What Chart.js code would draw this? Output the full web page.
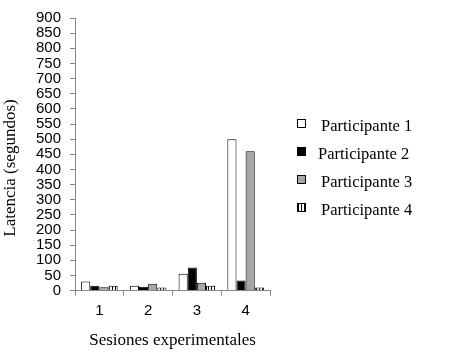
<!DOCTYPE html>
<html>
<head>
<meta charset="utf-8">
<script src="https://cdn.jsdelivr.net/npm/chart.js@4"></script>
<style>
html,body{margin:0;padding:0;background:#fff;}
#wrap{width:451px;height:355px;position:relative;}
</style>
</head>
<body>
<div id="wrap"><canvas id="c" width="451" height="355"></canvas></div>
<script>
const categories = ['1', '2', '3', '4'];
const seriesNames = ['Participante 1', 'Participante 2', 'Participante 3', 'Participante 4'];
const participante1 = [30, 16, 56, 500];
const participante2 = [16, 13, 76, 33];
const participante3 = [11, 23, 26, 460];
const participante4 = [16, 10, 16, 10];
const yTitle = 'Latencia (segundos)';
const xTitle = 'Sesiones experimentales';

function stripePattern(ctx) {
  const pc = document.createElement('canvas');
  pc.width = 3; pc.height = 3;
  const p = pc.getContext('2d');
  p.fillStyle = '#ffffff'; p.fillRect(0, 0, 3, 3);
  p.fillStyle = '#000000'; p.fillRect(1, 0, 1, 3);
  return ctx.createPattern(pc, 'repeat');
}

const ctx = document.getElementById('c').getContext('2d');
const pat = stripePattern(ctx);
const fills = ['#ffffff', '#000000', '#a6a6a6', pat];
const values = [participante1, participante2, participante3, participante4];

const legendPlugin = {
  id: 'customLegend',
  afterDraw(chart) {
    const c = chart.ctx;
    const rowsY = [125, 153, 181, 209];
    c.save();
    chart.data.datasets.forEach((ds, i) => {
      const y = rowsY[i];
      c.fillStyle = ds.backgroundColor;
      c.fillRect(297.5, y - 5.5, 8, 8);
      c.strokeStyle = '#000';
      c.lineWidth = 1;
      c.strokeRect(297.5, y - 5.5, 8, 8);
      c.fillStyle = '#000';
      c.font = '16.5px "Liberation Serif"';
      c.textBaseline = 'middle';
      c.textAlign = 'left';
      c.fillText(ds.label, i === 1 ? 318 : 321, y + 2);
    });
    // y axis title
    c.translate(11, 168);
    c.rotate(-Math.PI / 2);
    c.font = '17px "Liberation Serif"';
    c.textAlign = 'center';
    c.textBaseline = 'middle';
    c.fillText(yTitle, 0, 0);
    c.restore();
  }
};

new Chart(ctx, {
  type: 'bar',
  data: {
    labels: categories,
    datasets: seriesNames.map((n, i) => ({
      label: n,
      data: values[i],
      backgroundColor: fills[i],
      borderColor: '#000000',
      borderWidth: 1,
      barPercentage: 1.0,
      categoryPercentage: 0.75
    }))
  },
  options: {
    responsive: false,
    animation: false,
    layout: { padding: { left: 27, right: 181, top: 11, bottom: 4 } },
    plugins: {
      legend: { display: false },
      tooltip: { enabled: false }
    },
    scales: {
      x: {
        grid: { display: true, drawOnChartArea: false, drawTicks: true, tickLength: 5, color: '#868686', offset: true },
        border: { display: true, color: '#868686' },
        ticks: { color: '#000', font: { family: '"Liberation Sans"', size: 15 }, padding: 6 },
        title: { display: true, text: xTitle, color: '#000', font: { family: '"Liberation Serif"', size: 17 }, padding: { top: 5, bottom: 0 } }
      },
      y: {
        min: 0, max: 900,
        grid: { display: true, drawOnChartArea: false, drawTicks: true, tickLength: 5, color: '#868686' },
        border: { display: true, color: '#868686' },
        ticks: { stepSize: 50, autoSkip: false, color: '#000', font: { family: '"Liberation Sans"', size: 15 }, padding: 9 },
        title: { display: false }
      }
    }
  },
  plugins: [legendPlugin]
});
</script>
</body>
</html>
